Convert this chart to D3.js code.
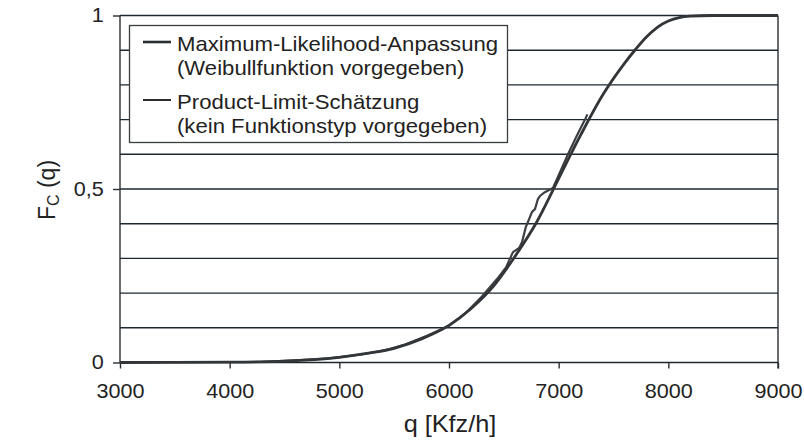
<!DOCTYPE html>
<html>
<head>
<meta charset="utf-8">
<script src="https://cdn.jsdelivr.net/npm/d3@7/dist/d3.min.js"></script>
<style>
  html, body { margin: 0; padding: 0; background: #fff; }
  svg { display: block; font-family: "Liberation Sans", Arial, sans-serif; }
</style>
</head>
<body>
<svg id="chart" width="804" height="442"></svg>
<script>
// Maximum-Likelihood fit (Weibull), q in Kfz/h and F_C(q)
const mlQ = [3000, 3500, 4000, 4500, 5000, 5250, 5500, 5750, 6000, 6200, 6400, 6600, 6800, 7000, 7200, 7400, 7600, 7700, 7800, 7900, 8000, 8100, 8200, 8400, 8600, 9000];
const mlF = [0, 0.0002, 0.001, 0.004, 0.015, 0.026, 0.041, 0.068, 0.107, 0.155, 0.218, 0.305, 0.405, 0.53, 0.655, 0.77, 0.862, 0.902, 0.938, 0.966, 0.984, 0.994, 0.998, 1, 1, 1];

// Product-Limit estimate (no distribution assumed)
const plQ = [4300, 4600, 4900, 5200, 5400, 5600, 5800, 6000, 6150, 6300, 6450, 6520, 6583, 6640, 6666, 6700, 6720, 6757, 6784, 6811, 6830, 6870, 6948, 7000, 7085, 7160, 7240, 7262];
const plF = [0.002, 0.006, 0.012, 0.023, 0.034, 0.052, 0.077, 0.106, 0.142, 0.19, 0.245, 0.274, 0.318, 0.33, 0.347, 0.39, 0.405, 0.434, 0.442, 0.471, 0.48, 0.49, 0.503, 0.54, 0.6, 0.65, 0.7, 0.715];

const xTicks = [3000, 4000, 5000, 6000, 7000, 8000, 9000];
const yTicks = [0, 0.5, 1];
const yTickLabels = ["0", "0,5", "1"];
const yGrid = [0, 0.1, 0.2, 0.3, 0.4, 0.5, 0.6, 0.7, 0.8, 0.9, 1];

const legendLabels = [
  ["Maximum-Likelihood-Anpassung", "(Weibullfunktion vorgegeben)"],
  ["Product-Limit-Schätzung", "(kein Funktionstyp vorgegeben)"]
];

const svg = d3.select("#chart");
const plotLeft = 120, plotRight = 778, plotTop = 15.5, plotBottom = 362.5;
const wide = "scale(1.08,1)"; // slightly wide lettering

const x = d3.scaleLinear().domain([3000, 9000]).range([plotLeft, plotRight]);
const y = d3.scaleLinear().domain([0, 1]).range([plotBottom, plotTop]);

const ink = "#2a2e33";
const gridInk = "#1d2732";

// horizontal grid lines
svg.append("g").selectAll("line").data(yGrid).join("line")
  .attr("x1", plotLeft).attr("x2", plotRight)
  .attr("y1", d => y(d)).attr("y2", d => y(d))
  .attr("stroke", gridInk).attr("stroke-width", 1.4);

// left axis with ticks at 0, 0.5, 1
const yAxis = svg.append("g").attr("transform", `translate(${plotLeft},0)`)
  .call(d3.axisLeft(y).tickValues(yTicks).tickSize(7).tickPadding(8)
    .tickFormat((d, i) => yTickLabels[i]));
yAxis.select(".domain").attr("stroke", ink).attr("stroke-width", 1.4)
  .attr("d", `M0,${plotTop}V${plotBottom + 0.5}`);
yAxis.selectAll(".tick line").attr("stroke", ink).attr("stroke-width", 1.4);
yAxis.selectAll(".tick text").attr("font-size", 20).attr("fill", "#222")
  .attr("font-family", "Liberation Sans, Arial, sans-serif").attr("transform", wide);

// bottom axis
const xAxis = svg.append("g").attr("transform", `translate(0,${plotBottom})`)
  .call(d3.axisBottom(x).tickValues(xTicks).tickSize(6).tickPadding(15).tickFormat(d3.format("d")));
xAxis.select(".domain").remove();
xAxis.selectAll(".tick line").attr("stroke", ink).attr("stroke-width", 1.4);
xAxis.selectAll(".tick text").attr("font-size", 20).attr("fill", "#222")
  .attr("font-family", "Liberation Sans, Arial, sans-serif").attr("transform", wide);

// right frame line
svg.append("line").attr("x1", plotRight).attr("x2", plotRight)
  .attr("y1", plotTop).attr("y2", plotBottom + 6)
  .attr("stroke", ink).attr("stroke-width", 1.4);

// curves
svg.append("path").datum(d3.zip(plQ, plF))
  .attr("d", d3.line().x(d => x(d[0])).y(d => y(d[1])).curve(d3.curveLinear))
  .attr("fill", "none").attr("stroke", "#3c3f43").attr("stroke-width", 2.2);
svg.append("path").datum(d3.zip(mlQ, mlF))
  .attr("d", d3.line().x(d => x(d[0])).y(d => y(d[1])).curve(d3.curveMonotoneX))
  .attr("fill", "none").attr("stroke", "#333639").attr("stroke-width", 2.8);

// legend
const lg = svg.append("g");
lg.append("rect").attr("x", 129.5).attr("y", 25.5).attr("width", 378).attr("height", 117)
  .attr("fill", "#fff").attr("stroke", "#3a3d40").attr("stroke-width", 1.3);
const rowY = [42, 100];
legendLabels.forEach((lines, i) => {
  lg.append("line").attr("x1", 143).attr("x2", 171).attr("y1", rowY[i]).attr("y2", rowY[i])
    .attr("stroke", "#2a2d30").attr("stroke-width", i === 0 ? 2.6 : 2.0);
  lines.forEach((t, j) => {
    lg.append("g").attr("transform", `translate(177,${rowY[i] + 8.5 + j * 24.5}) ${wide}`)
      .append("text").attr("font-size", 20.5).attr("fill", "#222").text(t);
  });
});

// axis titles
svg.append("g").attr("transform", "translate(450,432) scale(1.1,1)")
  .append("text").attr("text-anchor", "middle")
  .attr("font-size", 23).attr("fill", "#222").text("q [Kfz/h]");

const yl = svg.append("text").attr("transform", "translate(55,190) rotate(-90)")
  .attr("text-anchor", "middle").attr("font-size", 23).attr("fill", "#222");
yl.append("tspan").text("F");
yl.append("tspan").attr("font-size", 16).attr("dy", 4).text("C");
yl.append("tspan").attr("dy", -4).text(" (q)");
</script>
</body>
</html>
